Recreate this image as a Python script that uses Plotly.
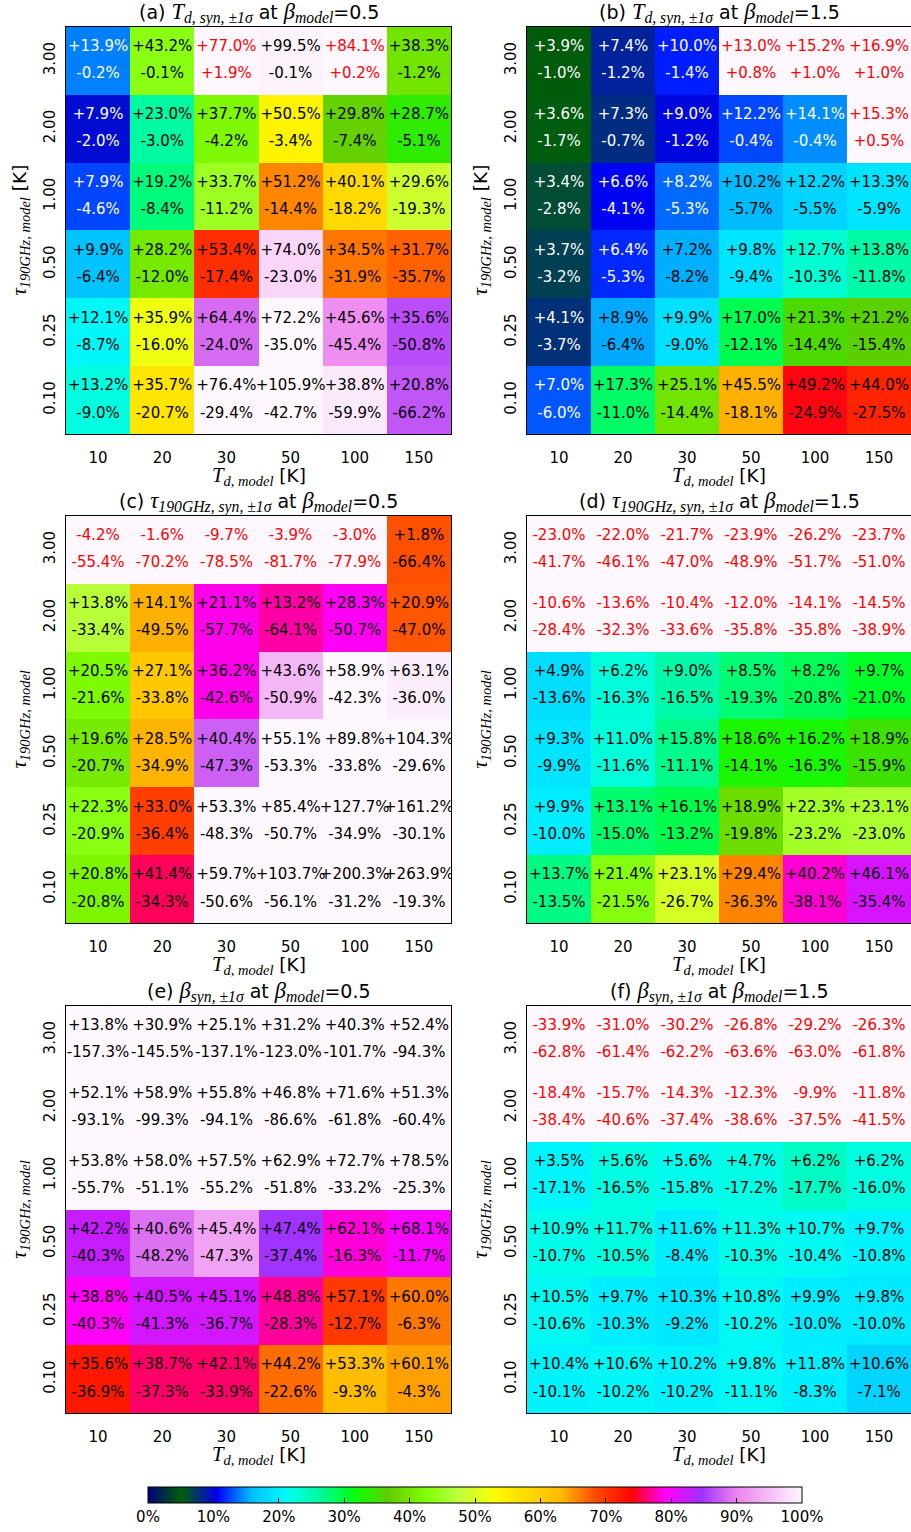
import numpy as np
import plotly.graph_objects as go

W, H = 911, 1532

# ---------------- data ----------------
td_labels = ["10", "20", "30", "50", "100", "150"]
tau_labels_top_to_bottom = ["3.00", "2.00", "1.00", "0.50", "0.25", "0.10"]
cbar_ticks = [0, 10, 20, 30, 40, 50, 60, 70, 80, 90, 100]
cbar_labels = ["0%", "10%", "20%", "30%", "40%", "50%", "60%", "70%", "80%", "90%", "100%"]

# rows listed top (tau=3.00) to bottom (tau=0.10); columns Td = 10..150 K
a_up = [[13.9, 43.2, 77.0, 99.5, 84.1, 38.3],
        [7.9, 23.0, 37.7, 50.5, 29.8, 28.7],
        [7.9, 19.2, 33.7, 51.2, 40.1, 29.6],
        [9.9, 28.2, 53.4, 74.0, 34.5, 31.7],
        [12.1, 35.9, 64.4, 72.2, 45.6, 35.6],
        [13.2, 35.7, 76.4, 105.9, 38.8, 20.8]]
a_lo = [[-0.2, -0.1, 1.9, -0.1, 0.2, -1.2],
        [-2.0, -3.0, -4.2, -3.4, -7.4, -5.1],
        [-4.6, -8.4, -11.2, -14.4, -18.2, -19.3],
        [-6.4, -12.0, -17.4, -23.0, -31.9, -35.7],
        [-8.7, -16.0, -24.0, -35.0, -45.4, -50.8],
        [-9.0, -20.7, -29.4, -42.7, -59.9, -66.2]]

b_up = [[3.9, 7.4, 10.0, 13.0, 15.2, 16.9],
        [3.6, 7.3, 9.0, 12.2, 14.1, 15.3],
        [3.4, 6.6, 8.2, 10.2, 12.2, 13.3],
        [3.7, 6.4, 7.2, 9.8, 12.7, 13.8],
        [4.1, 8.9, 9.9, 17.0, 21.3, 21.2],
        [7.0, 17.3, 25.1, 45.5, 49.2, 44.0]]
b_lo = [[-1.0, -1.2, -1.4, 0.8, 1.0, 1.0],
        [-1.7, -0.7, -1.2, -0.4, -0.4, 0.5],
        [-2.8, -4.1, -5.3, -5.7, -5.5, -5.9],
        [-3.2, -5.3, -8.2, -9.4, -10.3, -11.8],
        [-3.7, -6.4, -9.0, -12.1, -14.4, -15.4],
        [-6.0, -11.0, -14.4, -18.1, -24.9, -27.5]]

c_up = [[-4.2, -1.6, -9.7, -3.9, -3.0, 1.8],
        [13.8, 14.1, 21.1, 13.2, 28.3, 20.9],
        [20.5, 27.1, 36.2, 43.6, 58.9, 63.1],
        [19.6, 28.5, 40.4, 55.1, 89.8, 104.3],
        [22.3, 33.0, 53.3, 85.4, 127.7, 161.2],
        [20.8, 41.4, 59.7, 103.7, 200.3, 263.9]]
c_lo = [[-55.4, -70.2, -78.5, -81.7, -77.9, -66.4],
        [-33.4, -49.5, -57.7, -64.1, -50.7, -47.0],
        [-21.6, -33.8, -42.6, -50.9, -42.3, -36.0],
        [-20.7, -34.9, -47.3, -53.3, -33.8, -29.6],
        [-20.9, -36.4, -48.3, -50.7, -34.9, -30.1],
        [-20.8, -34.3, -50.6, -56.1, -31.2, -19.3]]

d_up = [[-23.0, -22.0, -21.7, -23.9, -26.2, -23.7],
        [-10.6, -13.6, -10.4, -12.0, -14.1, -14.5],
        [4.9, 6.2, 9.0, 8.5, 8.2, 9.7],
        [9.3, 11.0, 15.8, 18.6, 16.2, 18.9],
        [9.9, 13.1, 16.1, 18.9, 22.3, 23.1],
        [13.7, 21.4, 23.1, 29.4, 40.2, 46.1]]
d_lo = [[-41.7, -46.1, -47.0, -48.9, -51.7, -51.0],
        [-28.4, -32.3, -33.6, -35.8, -35.8, -38.9],
        [-13.6, -16.3, -16.5, -19.3, -20.8, -21.0],
        [-9.9, -11.6, -11.1, -14.1, -16.3, -15.9],
        [-10.0, -15.0, -13.2, -19.8, -23.2, -23.0],
        [-13.5, -21.5, -26.7, -36.3, -38.1, -35.4]]

e_up = [[13.8, 30.9, 25.1, 31.2, 40.3, 52.4],
        [52.1, 58.9, 55.8, 46.8, 71.6, 51.3],
        [53.8, 58.0, 57.5, 62.9, 72.7, 78.5],
        [42.2, 40.6, 45.4, 47.4, 62.1, 68.1],
        [38.8, 40.5, 45.1, 48.8, 57.1, 60.0],
        [35.6, 38.7, 42.1, 44.2, 53.3, 60.1]]
e_lo = [[-157.3, -145.5, -137.1, -123.0, -101.7, -94.3],
        [-93.1, -99.3, -94.1, -86.6, -61.8, -60.4],
        [-55.7, -51.1, -55.2, -51.8, -33.2, -25.3],
        [-40.3, -48.2, -47.3, -37.4, -16.3, -11.7],
        [-40.3, -41.3, -36.7, -28.3, -12.7, -6.3],
        [-36.9, -37.3, -33.9, -22.6, -9.3, -4.3]]

f_up = [[-33.9, -31.0, -30.2, -26.8, -29.2, -26.3],
        [-18.4, -15.7, -14.3, -12.3, -9.9, -11.8],
        [3.5, 5.6, 5.6, 4.7, 6.2, 6.2],
        [10.9, 11.7, 11.6, 11.3, 10.7, 9.7],
        [10.5, 9.7, 10.3, 10.8, 9.9, 9.8],
        [10.4, 10.6, 10.2, 9.8, 11.8, 10.6]]
f_lo = [[-62.8, -61.4, -62.2, -63.6, -63.0, -61.8],
        [-38.4, -40.6, -37.4, -38.6, -37.5, -41.5],
        [-17.1, -16.5, -15.8, -17.2, -17.7, -16.0],
        [-10.7, -10.5, -8.4, -10.3, -10.4, -10.8],
        [-10.6, -10.3, -9.2, -10.2, -10.0, -10.0],
        [-10.1, -10.2, -10.2, -11.1, -8.3, -7.1]]

# ---------------- colormap (gist_ncar segment data) ----------------
R_seg = [(0.0, 0.0), (0.3098, 0.0), (0.3725, 0.3993), (0.4235, 0.5003), (0.5333, 1.0),
         (0.7922, 1.0), (0.8471, 0.6218), (0.8980, 0.9235), (1.0, 0.9961)]
G_seg = [(0.0, 0.0), (0.0510, 0.3722), (0.1059, 0.0), (0.1569, 0.7202), (0.1608, 0.7537),
         (0.1647, 0.7752), (0.2157, 1.0), (0.2588, 0.9804), (0.2706, 0.9804), (0.3176, 1.0),
         (0.3686, 0.8081), (0.4275, 1.0), (0.5216, 1.0), (0.6314, 0.7292), (0.6863, 0.2796),
         (0.7451, 0.0), (0.7922, 0.0), (0.8431, 0.1753), (0.8980, 0.5), (1.0, 0.9725)]
B_seg = [(0.0, 0.5020), (0.0510, 0.0222), (0.1098, 1.0), (0.2039, 1.0), (0.2627, 0.6145),
         (0.3216, 0.0), (0.4157, 0.0), (0.4745, 0.2342), (0.5333, 0.0), (0.7373, 0.0),
         (0.7922, 1.0), (0.8431, 1.0), (0.8980, 0.9341), (1.0, 0.9961)]


def chan(seg, p):
    xs = [s[0] for s in seg]
    ys = [s[1] for s in seg]
    return float(np.interp(p, xs, ys))


pos = sorted(set([s[0] for s in R_seg + G_seg + B_seg]))
colorscale = []
for p in pos:
    r, g, b = (round(255 * chan(R_seg, p)), round(255 * chan(G_seg, p)), round(255 * chan(B_seg, p)))
    colorscale.append([p, f"rgb({r},{g},{b})"])

# ---------------- layout geometry (pixels) ----------------
col_x = [(66, 451), (527, 911)]
row_y = [(27, 435), (517, 925), (1008, 1416)]


def fx(px):
    return px / W


def fy(py):
    return 1 - py / H


SANS = "DejaVu Sans"
SERIF = "Liberation Serif"


def M(s, scale=118):
    return f'<i><span style="font-family:{SERIF};font-size:{scale}%">{s}</span></i>'


def math_title(letter, sub, beta):
    return (M(letter) + "<sub>" + M(sub) + "</sub> at " + M("β") + "<sub>" + M("model") +
            "</sub>=" + beta)


titles = [
    "(a) " + math_title("T", "d, syn, ±1σ", "0.5"),
    "(b) " + math_title("T", "d, syn, ±1σ", "1.5"),
    "(c) " + math_title("τ", "190GHz, syn, ±1σ", "0.5"),
    "(d) " + math_title("τ", "190GHz, syn, ±1σ", "1.5"),
    "(e) " + math_title("β", "syn, ±1σ", "0.5"),
    "(f) " + math_title("β", "syn, ±1σ", "1.5"),
]
xlabel = M("T", 112) + "<sub>" + M("d, model", 112) + "</sub> [K]"
ylabel_K = M("τ", 112) + "<sub>" + M("190GHz, model", 112) + "</sub> [K]"
ylabel = M("τ", 112) + "<sub>" + M("190GHz, model", 112) + "</sub>"
ylabels = [ylabel_K, ylabel_K, ylabel, ylabel, ylabel, ylabel]

panels = [(a_up, a_lo), (b_up, b_lo), (c_up, c_lo), (d_up, d_lo), (e_up, e_lo), (f_up, f_lo)]

fig = go.Figure()
annotations = []
nrow = len(tau_labels_top_to_bottom)
ncol = len(td_labels)

for k, (up, lo) in enumerate(panels):
    up = np.array(up)
    lo = np.array(lo)
    masked = (up < 0) | (lo > 0)
    width = up - lo
    z = np.where(masked, 100.0, width)
    # flip so row 0 is bottom (0.10)
    zf = z[::-1]
    upf = up[::-1]
    lof = lo[::-1]
    mf = masked[::-1]
    wf = width[::-1]
    ri, ci = k // 2, k % 2
    sfx = "" if k == 0 else str(k + 1)
    xa = "x" + sfx
    ya = "y" + sfx
    fig.add_trace(go.Heatmap(z=zf, x=list(range(ncol)), y=list(range(nrow)),
                             coloraxis="coloraxis", xaxis=xa, yaxis=ya,
                             hoverinfo="skip"))
    xs, ys_u, ys_l, tu, tl, cols = [], [], [], [], [], []
    for r in range(nrow):
        for c in range(ncol):
            xs.append(c)
            ys_u.append(r + 0.2)
            ys_l.append(r - 0.2)
            tu.append(f"{upf[r, c]:+.1f}%")
            tl.append(f"{lof[r, c]:+.1f}%")
            if mf[r, c]:
                cols.append("#ff0000")
            elif wf[r, c] < 15:
                cols.append("#ffffff")
            else:
                cols.append("#000000")
    for yy, tt in ((ys_u, tu), (ys_l, tl)):
        fig.add_trace(go.Scatter(x=xs, y=yy, text=tt, mode="text", xaxis=xa, yaxis=ya,
                                 textposition="middle center",
                                 textfont=dict(family=SANS, size=15, color=cols),
                                 hoverinfo="skip", showlegend=False))
    x0, x1 = col_x[ci]
    y0, y1 = row_y[ri]
    axis_common = dict(showline=True, mirror=True, linecolor="black", linewidth=1,
                       showgrid=False, zeroline=False, ticks="",
                       tickfont=dict(family=SANS, size=15, color="black"))
    fig.update_layout(**{
        ("xaxis" + sfx): dict(domain=[fx(x0), fx(x1)], range=[-0.5, ncol - 0.5],
                              tickvals=list(range(ncol)), ticktext=td_labels,
                              anchor=ya, ticklabelstandoff=10, **axis_common),
        ("yaxis" + sfx): dict(domain=[fy(y1), fy(y0)], range=[-0.5, nrow - 0.5],
                              tickvals=list(range(nrow)), ticktext=tau_labels_top_to_bottom[::-1],
                              anchor=xa, tickangle=-90, ticklabelstandoff=4, **axis_common),
    })
    cx = (x0 + x1) / 2
    cy = (y0 + y1) / 2
    annotations.append(dict(text=titles[k], x=fx(cx), y=fy(y0 - 14), xref="paper", yref="paper",
                            xanchor="center", yanchor="middle", showarrow=False,
                            font=dict(family=SANS, size=19, color="black")))
    annotations.append(dict(text=xlabel, x=fx(cx), y=fy(y1 + 42), xref="paper", yref="paper",
                            xanchor="center", yanchor="middle", showarrow=False,
                            font=dict(family=SANS, size=18.5, color="black")))
    annotations.append(dict(text=ylabels[k], x=fx(x0 - 45), y=fy(cy), xref="paper", yref="paper",
                            xanchor="center", yanchor="middle", showarrow=False, textangle=-90,
                            font=dict(family=SANS, size=18.5, color="black")))

fig.update_layout(
    width=W, height=H, margin=dict(l=0, r=0, t=0, b=0),
    paper_bgcolor="white", plot_bgcolor="white", showlegend=False,
    annotations=annotations,
    coloraxis=dict(
        colorscale=colorscale, cmin=0, cmax=100,
        colorbar=dict(orientation="h", x=fx(148), xanchor="left", y=fy(1490), yanchor="top",
                      lenmode="pixels", len=654, thickness=16, thicknessmode="pixels",
                      xpad=0, ypad=0, outlinecolor="black", outlinewidth=1,
                      tickvals=cbar_ticks, ticktext=cbar_labels, ticks="inside",
                      ticklen=5, tickcolor="black", tickwidth=1,
                      tickfont=dict(family=SANS, size=15, color="black")),
    ),
)

fig.write_html("out.html")
